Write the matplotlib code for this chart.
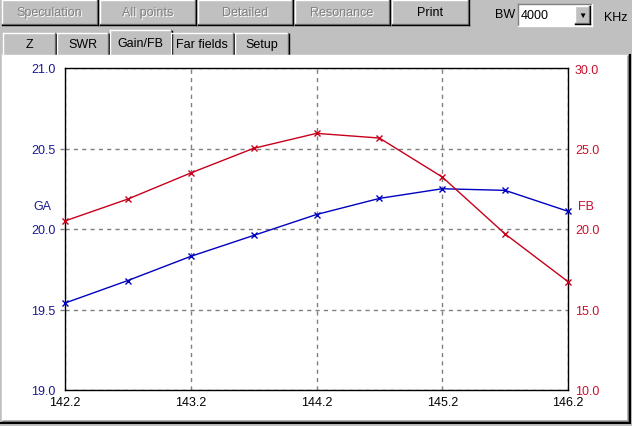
import matplotlib.pyplot as plt
from matplotlib.patches import Rectangle
from matplotlib.lines import Line2D

W, H = 632, 427

freq = [142.2, 142.7, 143.2, 143.7, 144.2, 144.7, 145.2, 145.7, 146.2]
ga = [19.54, 19.68, 19.83, 19.96, 20.09, 20.19, 20.25, 20.24, 20.11]
fb = [20.50, 21.86, 23.48, 25.01, 25.94, 25.65, 23.23, 19.69, 16.73]

x_ticks = [142.2, 143.2, 144.2, 145.2, 146.2]
ga_ticks = [19.0, 19.5, 20.0, 20.5, 21.0]
fb_ticks = [10.0, 15.0, 20.0, 25.0, 30.0]

buttons = ["Speculation", "All points", "Detailed", "Resonance", "Print"]
tabs = ["Z", "SWR", "Gain/FB", "Far fields", "Setup"]

FACE = "#c0c0c0"
BLUE = "#0000c0"
RED = "#c8001c"
FONT = "Liberation Sans"

plt.rcParams["font.family"] = FONT


def fx(x):
    return x / W


def fy(y):
    return 1 - y / H


def rect(fig, x0, y0, x1, y1, fc, ec="none", lw=1, z=0):
    fig.add_artist(Rectangle((fx(x0), fy(y1)), fx(x1 - x0), (y1 - y0) / H,
                             facecolor=fc, edgecolor=ec, lw=lw, zorder=z,
                             transform=fig.transFigure))


def line(fig, xs, ys, c, lw=1, z=1):
    fig.add_artist(Line2D([fx(x) for x in xs], [fy(y) for y in ys], color=c,
                          lw=lw, zorder=z, transform=fig.transFigure))


def bevel(fig, x0, y0, x1, y1, raised=True):
    hi, lo = ("white", "#808080") if raised else ("#808080", "white")
    line(fig, [x0, x1], [y0, y0], hi)
    line(fig, [x0, x0], [y0, y1], hi)
    line(fig, [x0, x1], [y1, y1], lo)
    line(fig, [x1, x1], [y0, y1], lo)
    if raised:
        line(fig, [x0, x1 + 1], [y1 + 1, y1 + 1], "black")
        line(fig, [x1 + 1, x1 + 1], [y0, y1 + 1], "black")


def label(fig, x, y, s, c="black", ha="center", size=9):
    fig.text(fx(x), fy(y), s, color=c, ha=ha, va="center", fontsize=size,
             fontfamily=FONT)


fig = plt.figure(figsize=(W / 100, H / 100), dpi=100, facecolor=FACE)

# top button row
bx = [2, 100, 198, 295, 392]
bw = [95, 95, 94, 94, 76]
for i, name in enumerate(buttons):
    x0, x1 = bx[i], bx[i] + bw[i]
    bevel(fig, x0, 1, x1, 25)
    xc = (x0 + x1) / 2
    if name == "Print":
        label(fig, xc, 13, name)
    else:
        label(fig, xc + 1, 14, name, c="white")
        label(fig, xc, 13, name, c="#808080")

label(fig, 505, 15, "BW")
rect(fig, 518, 5, 592, 27, "white", z=1)
bevel(fig, 518, 5, 592, 27, raised=False)
label(fig, 521, 16, "4000", ha="left")
rect(fig, 575, 7, 590, 25, FACE, z=1)
bevel(fig, 575, 7, 589, 24)
label(fig, 582, 16, "\u25bc", size=6)
label(fig, 616, 18, "KHz")

# tabs
tx = [3, 57, 110, 171, 235]
tw = [52, 51, 61, 62, 53]
for i, name in enumerate(tabs):
    x0, x1 = tx[i], tx[i] + tw[i]
    top = 31 if name == "Gain/FB" else 34
    line(fig, [x0, x1 - 1], [top, top], "white")
    line(fig, [x0, x0], [top, 55], "white")
    line(fig, [x1, x1], [top, 55], "#808080")
    line(fig, [x1 + 1, x1 + 1], [top + 1, 55], "black")
    label(fig, (x0 + x1) / 2, 44 if name == "Gain/FB" else 45, name)

# white panel
rect(fig, 3, 57, 627, 421, "white", z=0.5)
line(fig, [2, 628], [56, 56], "white")
line(fig, [2, 2], [56, 423], "white")
line(fig, [2, 628], [422, 422], "#808080")
line(fig, [628, 628], [56, 422], "#808080")
line(fig, [1, 630], [424, 424], "black", lw=1.5)
line(fig, [630, 630], [56, 424], "black", lw=1.5)

# chart
ax = fig.add_axes([fx(65), fy(391), fx(568) - fx(65), (391 - 69) / H])
ax.set_facecolor("white")
ax.set_zorder(2)
ax.set_xlim(142.2, 146.2)
ax.set_ylim(19.0, 21.0)
ax.set_xticks(x_ticks)
ax.set_xticklabels([f"{v:.1f}" for v in x_ticks])
ax.set_yticks(ga_ticks)
ax.set_yticklabels([f"{v:.1f}" for v in ga_ticks])
ax.tick_params(axis="x", length=0, pad=4, labelsize=9, labelcolor="black")
ax.tick_params(axis="y", length=0, pad=7, labelsize=9, labelcolor="#1a1a90")
ax.grid(True, color="#808080", linestyle=(0, (3, 3)), lw=1)
for s in ax.spines.values():
    s.set_color("black")
    s.set_linewidth(1)

# grid dashes run a few pixels past the left spine
for v in ga_ticks[1:-1]:
    ax.plot([142.16, 142.2], [v, v], color="#808080", lw=1,
            linestyle=(0, (3, 3)), clip_on=False)

ax2 = ax.twinx()
ax2.set_ylim(10.0, 30.0)
ax2.set_yticks(fb_ticks)
ax2.set_yticklabels([f"{v:.1f}" for v in fb_ticks])
ax2.tick_params(axis="y", length=0, pad=5, labelsize=9, labelcolor="#c8102e")
for s in ax2.spines.values():
    s.set_visible(False)

ax.plot(freq, ga, color=BLUE, lw=1, marker="x", ms=5, mew=1, clip_on=False, zorder=3)
ax2.plot(freq, fb, color=RED, lw=1, marker="x", ms=5, mew=1, clip_on=False, zorder=3)

label(fig, 42, 207, "GA", c="#1a1a90")
label(fig, 586, 207, "FB", c="#c8102e")

fig.savefig("out.png", dpi=100, facecolor=FACE)
